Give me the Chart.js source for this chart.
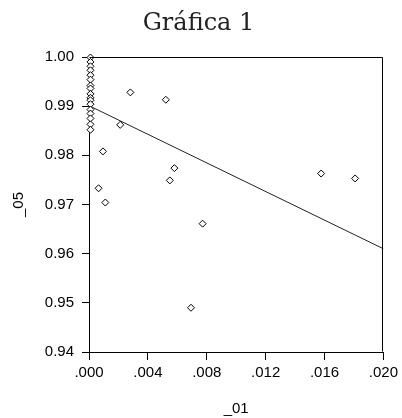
<!DOCTYPE html>
<html>
<head>
<meta charset="utf-8">
<script src="https://cdn.jsdelivr.net/npm/chart.js@4/dist/chart.umd.min.js"></script>
<style>
html, body { margin: 0; padding: 0; background: #fff; }
#chart { display: block; }
</style>
</head>
<body>
<canvas id="chart" width="402" height="418"></canvas>
<script>
const titleText = "Gráfica 1";
const xLabel = "_01";
const yLabel = "_05";

const obsX = [0.0001, 0.0001, 0.0001, 0.0001, 0.0001, 0.0001, 0.0001, 0.0001, 0.0001,
              0.0001, 0.0001, 0.0001, 0.0001, 0.0001, 0.0001, 0.0001, 0.0001,
              0.00281, 0.00522, 0.00212, 0.00095, 0.0058, 0.00549, 0.00065, 0.00111,
              0.00772, 0.00693, 0.01577, 0.01808];
const obsY = [0.9999, 0.9990, 0.9981, 0.9973, 0.9963, 0.9954, 0.9942, 0.9936, 0.9925,
              0.9917, 0.9912, 0.9904, 0.9893, 0.9885, 0.9875, 0.9863, 0.9852,
              0.9928, 0.9913, 0.9862, 0.9808, 0.9774, 0.9749, 0.9733, 0.9704,
              0.9661, 0.9490, 0.9763, 0.9753];

// fitted line ends
const fitX = [0.000, 0.020];
const fitY = [0.9901, 0.9610];

const xTicks = [0.000, 0.004, 0.008, 0.012, 0.016, 0.020];
const yTicks = [0.94, 0.95, 0.96, 0.97, 0.98, 0.99, 1.00];

const tickFont = { family: "'Liberation Sans', Arial, sans-serif", size: 15 };

// top and right sides of the box
const framePlugin = {
    id: "frame",
    afterDraw(c) {
        const a = c.chartArea;
        const ctx = c.ctx;
        ctx.save();
        ctx.strokeStyle = "#000";
        ctx.lineWidth = 1;
        ctx.beginPath();
        ctx.moveTo(Math.round(a.left) + 0.5, Math.round(a.top) + 0.5);
        ctx.lineTo(Math.round(a.right) - 0.5, Math.round(a.top) + 0.5);
        ctx.lineTo(Math.round(a.right) - 0.5, Math.round(a.bottom) - 0.5);
        ctx.stroke();
        ctx.restore();
    }
};

new Chart(document.getElementById("chart"), {
    type: "scatter",
    data: {
        datasets: [
            {
                label: "obs",
                data: obsX.map((x, i) => ({ x: x, y: obsY[i] })),
                pointStyle: "rectRot",
                pointRadius: 3.5,
                pointBorderWidth: 1,
                pointBackgroundColor: "#fff",
                pointBorderColor: "#000",
                clip: false
            },
            {
                label: "fit",
                type: "line",
                data: fitX.map((x, i) => ({ x: x, y: fitY[i] })),
                borderColor: "#222",
                borderWidth: 1,
                pointRadius: 0,
                fill: false
            }
        ]
    },
    options: {
        responsive: false,
        animation: false,
        devicePixelRatio: 1,
        layout: { padding: { left: 11, right: 16, top: 0, bottom: 0 } },
        plugins: {
            legend: { display: false },
            tooltip: { enabled: false },
            title: {
                display: true,
                text: titleText,
                color: "#222",
                font: { family: "'DejaVu Serif', serif", size: 24, weight: "normal", lineHeight: 1.2 },
                padding: { top: 9, bottom: 19.2 }
            }
        },
        scales: {
            x: {
                type: "linear",
                min: 0,
                max: 0.02,
                afterBuildTicks: s => { s.ticks = xTicks.map(v => ({ value: v })); },
                afterFit: s => { s.height = 66; },
                grid: { drawOnChartArea: false, drawTicks: true, tickLength: 8, color: "#000" },
                border: { display: true, color: "#000", width: 1 },
                ticks: {
                    color: "#000",
                    font: tickFont,
                    padding: 4,
                    maxRotation: 0,
                    autoSkip: false,
                    callback: v => "." + v.toFixed(3).split(".")[1]
                },
                title: {
                    display: true,
                    text: xLabel,
                    color: "#000",
                    font: { family: "'Liberation Sans', Arial, sans-serif", size: 15, lineHeight: 1 },
                    padding: { top: 0, bottom: 2 }
                }
            },
            y: {
                type: "linear",
                min: 0.94,
                max: 1.0,
                afterBuildTicks: s => { s.ticks = yTicks.map(v => ({ value: v })); },
                afterFit: s => { s.width = 78; },
                grid: { drawOnChartArea: false, drawTicks: true, tickLength: 7, color: "#000" },
                border: { display: true, color: "#000", width: 1 },
                ticks: {
                    color: "#000",
                    font: tickFont,
                    padding: 8,
                    autoSkip: false,
                    callback: v => v.toFixed(2)
                },
                title: {
                    display: true,
                    text: yLabel,
                    color: "#000",
                    font: { family: "'Liberation Sans', Arial, sans-serif", size: 15, lineHeight: 1 },
                    padding: { top: 0, bottom: 0 }
                }
            }
        }
    },
    plugins: [framePlugin]
});
</script>
</body>
</html>
